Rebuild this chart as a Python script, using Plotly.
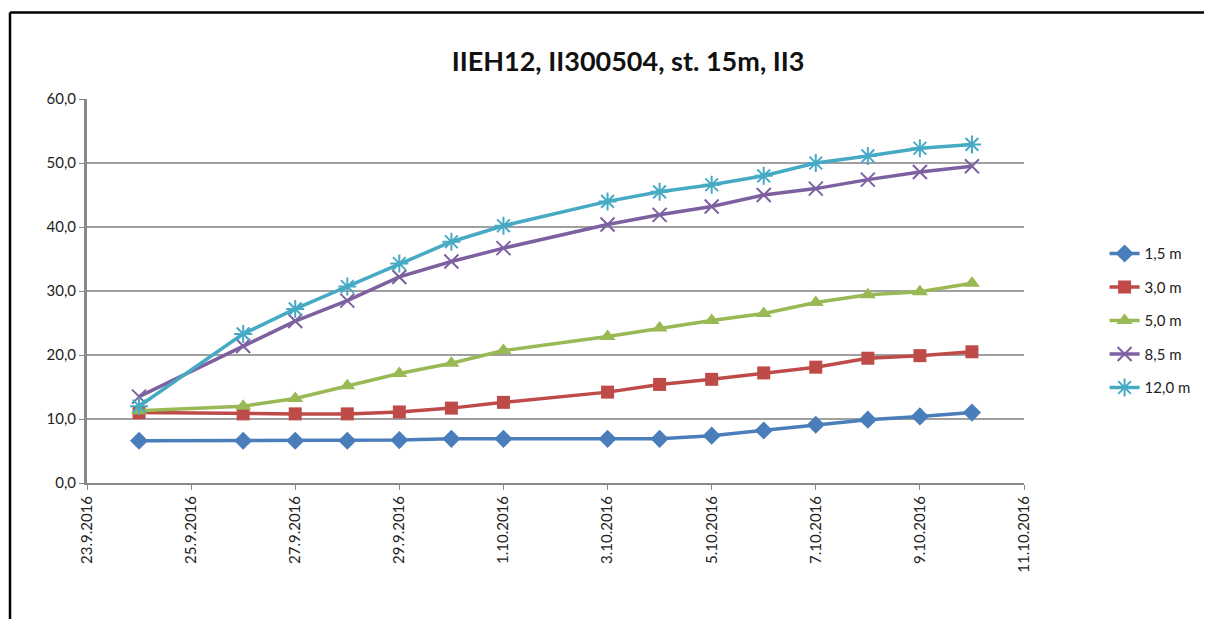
import plotly.graph_objects as go

dates = ["2016-09-24", "2016-09-26", "2016-09-27", "2016-09-28", "2016-09-29",
         "2016-09-30", "2016-10-01", "2016-10-03", "2016-10-04", "2016-10-05",
         "2016-10-06", "2016-10-07", "2016-10-08", "2016-10-09", "2016-10-10"]

s_1_5 = [6.6, 6.6, 6.6, 6.6, 6.7, 6.9, 6.9, 6.9, 6.9, 7.4, 8.2, 9.1, 9.9, 10.4, 11.0]
s_3_0 = [11.0, 10.8, 10.8, 10.8, 11.1, 11.7, 12.6, 14.2, 15.4, 16.2, 17.2, 18.1, 19.5, 19.9, 20.5]
s_5_0 = [11.3, 12.0, 13.2, 15.2, 17.1, 18.7, 20.7, 22.9, 24.2, 25.4, 26.5, 28.2, 29.4, 29.9, 31.2]
s_8_5 = [13.5, 21.4, 25.3, 28.5, 32.2, 34.6, 36.7, 40.4, 41.9, 43.2, 45.0, 46.0, 47.4, 48.6, 49.5]
s_12_0 = [12.0, 23.3, 27.2, 30.7, 34.3, 37.7, 40.2, 44.0, 45.5, 46.6, 48.0, 50.0, 51.1, 52.3, 52.9]

names = ["1,5 m", "3,0 m", "5,0 m", "8,5 m", "12,0 m"]
colors = ["#4A7EBB", "#BE4B48", "#98B954", "#7D60A0", "#46AAC5"]
symbols = ["diamond", "square", "triangle-up", "x-thin-open", "asterisk-open"]
sizes = [14, 13, 14, 14, 15]
title = "IIEH12, II300504, st. 15m, II3"

series = [s_1_5, s_3_0, s_5_0, s_8_5, s_12_0]

fig = go.Figure()
for i, (nm, vals) in enumerate(zip(names, series)):
    fig.add_trace(go.Scatter(
        x=dates, y=vals, name=nm, mode="lines+markers",
        legendgroup=f"g{i}",
        line=dict(color=colors[i], width=3.5),
        marker=dict(symbol=symbols[i], size=sizes[i], color=colors[i],
                    line=dict(color=colors[i], width=2 if i >= 3 else 0)),
    ))

font = "Lato, 'Liberation Sans', sans-serif"
fig.update_layout(
    width=1204, height=611,
    margin=dict(l=79, r=188, t=91, b=136),
    paper_bgcolor="white", plot_bgcolor="white",
    separators=", ",
    font=dict(family=font, size=15, color="#222"),
    title=dict(text="<b>" + title + "</b>", x=0.515, xanchor="center",
               y=0.912, yanchor="middle", font=dict(size=27, family=font, color="#111")),
    showlegend=True,
    legend=dict(x=1.086, xanchor="left", y=0.64, yanchor="top",
                font=dict(size=15, family=font), tracegroupgap=11,
                bgcolor="rgba(0,0,0,0)"),
    xaxis=dict(type="date", range=["2016-09-23", "2016-10-11"],
               tick0="2016-09-23", dtick=2 * 86400000, tickformat="%-d.%-m.%Y",
               tickangle=-90, ticks="outside", ticklen=5, tickcolor="#888",
               showgrid=False, showline=True, linecolor="#888", linewidth=2,
               zeroline=False, tickfont=dict(size=15)),
    yaxis=dict(range=[0, 60], dtick=10, tickformat=".1f",
               ticks="outside", ticklen=5, tickcolor="#888",
               showgrid=True, gridcolor="#A0A0A0", gridwidth=1.5,
               showline=True, linecolor="#888", linewidth=3,
               zeroline=False, tickfont=dict(size=15)),
)

# outer chart frame (top and left edges visible)
fig.add_shape(type="line", xref="paper", yref="paper",
              x0=(10 - 87) / 937, x1=(1230 - 87) / 937,
              y0=(483 - 12.5) / 384, y1=(483 - 12.5) / 384,
              line=dict(color="#000", width=2.5))
fig.add_shape(type="line", xref="paper", yref="paper",
              x0=(10 - 87) / 937, x1=(10 - 87) / 937,
              y0=(483 - 12.5) / 384, y1=(483 - 640) / 384,
              line=dict(color="#000", width=2.5))

fig.write_html("out.html")
